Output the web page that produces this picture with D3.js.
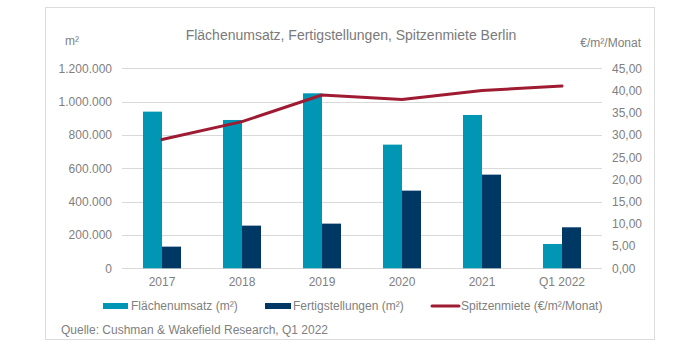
<!DOCTYPE html>
<html><head><meta charset="utf-8">
<script src="https://cdn.jsdelivr.net/npm/d3@7"></script>
<style>
html,body{margin:0;padding:0;background:#fff;}
svg{display:block;font-family:"Liberation Sans",Arial,sans-serif;}
</style></head>
<body>
<svg id="c" width="700" height="349"></svg>
<script>
const categories = ["2017","2018","2019","2020","2021","Q1 2022"];
const flaechenumsatz = [940000, 890000, 1050000, 742000, 920000, 146000];
const fertigstellungen = [130000, 256000, 268000, 466000, 562000, 246000];
const spitzenmiete = [29.0, 33.0, 39.0, 38.0, 40.0, 41.0];
const leftTicks = [0,200000,400000,600000,800000,1000000,1200000];
const rightTicks = [0,5,10,15,20,25,30,35,40,45];
const seriesNames = ["Flächenumsatz (m²)","Fertigstellungen (m²)","Spitzenmiete (€/m²/Monat)"];

const colTeal = "#0096B4", colNavy = "#003865", colRed = "#9E1B32", txt = "#808080", grid = "#D9D9D9";
const svg = d3.select("#c");
const M = {left:122, right:602, top:68.3, bottom:268.3};

// outer frame
svg.append("rect").attr("x",45.5).attr("y",7.5).attr("width",609).attr("height",332)
  .attr("fill","#fff").attr("stroke","#DCDCDC").attr("stroke-width",1);

const x = d3.scaleBand().domain(categories).range([M.left,M.right]);
const yL = d3.scaleLinear().domain([0,1200000]).range([M.bottom,M.top]);
const yR = d3.scaleLinear().domain([0,45]).range([M.bottom,M.top]);

// gridlines
svg.append("g").selectAll("line").data(leftTicks).join("line")
  .attr("x1",M.left).attr("x2",M.right)
  .attr("y1",d=>Math.round(yL(d))+0.5).attr("y2",d=>Math.round(yL(d))+0.5)
  .attr("stroke",grid).attr("stroke-width",1);

const fmtL = d => d3.format(",")(d).replace(/,/g,".");
const fmtR = d => d3.format(".2f")(d).replace(".",",");

// left axis
const axL = svg.append("g").attr("transform",`translate(${M.left},0)`)
  .call(d3.axisLeft(yL).tickValues(leftTicks).tickFormat(fmtL).tickSize(0).tickPadding(10));
axL.select(".domain").remove();
axL.selectAll("text").attr("fill",txt).style("font-size","12px").style("font-family","Liberation Sans, Arial, sans-serif");

// right axis
const axR = svg.append("g").attr("transform",`translate(${M.right},0)`)
  .call(d3.axisRight(yR).tickValues(rightTicks).tickFormat(fmtR).tickSize(0).tickPadding(10));
axR.select(".domain").remove();
axR.selectAll("text").attr("fill",txt).style("font-size","12px").style("font-family","Liberation Sans, Arial, sans-serif");

// bottom axis
const axB = svg.append("g").attr("transform",`translate(0,${M.bottom})`)
  .call(d3.axisBottom(x).tickSize(0).tickPadding(9));
axB.select(".domain").remove();
axB.selectAll("text").attr("fill",txt).style("font-size","12px").style("font-family","Liberation Sans, Arial, sans-serif");

// bars
const bw = 19;
const g = svg.append("g");
g.selectAll(".b1").data(categories).join("rect")
  .attr("x",(d)=>x(d)+x.bandwidth()/2-bw).attr("width",bw)
  .attr("y",(d,i)=>yL(flaechenumsatz[i])).attr("height",(d,i)=>yL(0)-yL(flaechenumsatz[i]))
  .attr("fill",colTeal);
g.selectAll(".b2").data(categories).join("rect")
  .attr("x",(d)=>x(d)+x.bandwidth()/2).attr("width",bw)
  .attr("y",(d,i)=>yL(fertigstellungen[i])).attr("height",(d,i)=>yL(0)-yL(fertigstellungen[i]))
  .attr("fill",colNavy);

// line
const line = d3.line().x((d,i)=>x(categories[i])+x.bandwidth()/2).y(d=>yR(d));
svg.append("path").datum(spitzenmiete).attr("d",line).attr("fill","none")
  .attr("stroke",colRed).attr("stroke-width",3).attr("stroke-linejoin","round").attr("stroke-linecap","round");

// title and units
svg.append("text").attr("x",351).attr("y",40).attr("text-anchor","middle")
  .attr("fill","#7A7A7A").style("font-size","14px").text("Flächenumsatz, Fertigstellungen, Spitzenmiete Berlin");
svg.append("text").attr("x",65).attr("y",45).attr("fill",txt).style("font-size","12px").text("m²");
svg.append("text").attr("x",641).attr("y",47).attr("text-anchor","end").attr("fill",txt).style("font-size","12px").text("€/m²/Monat");

// legend
const leg = svg.append("g");
const ly = 306;
leg.append("rect").attr("x",103).attr("y",ly-3).attr("width",25).attr("height",6).attr("fill",colTeal);
leg.append("text").attr("x",131).attr("y",ly+4).attr("fill",txt).style("font-size","12px").text(seriesNames[0]);
leg.append("rect").attr("x",265).attr("y",ly-3).attr("width",26).attr("height",6).attr("fill",colNavy);
leg.append("text").attr("x",293).attr("y",ly+4).attr("fill",txt).style("font-size","12px").text(seriesNames[1]);
leg.append("line").attr("x1",432).attr("x2",459).attr("y1",ly).attr("y2",ly).attr("stroke",colRed).attr("stroke-width",3).attr("stroke-linecap","round");
leg.append("text").attr("x",461).attr("y",ly+4).attr("fill",txt).style("font-size","12px").text(seriesNames[2]);

// source
svg.append("text").attr("x",61).attr("y",334).attr("fill",txt).style("font-size","12px").text("Quelle: Cushman & Wakefield Research, Q1 2022");
</script>
</body></html>
